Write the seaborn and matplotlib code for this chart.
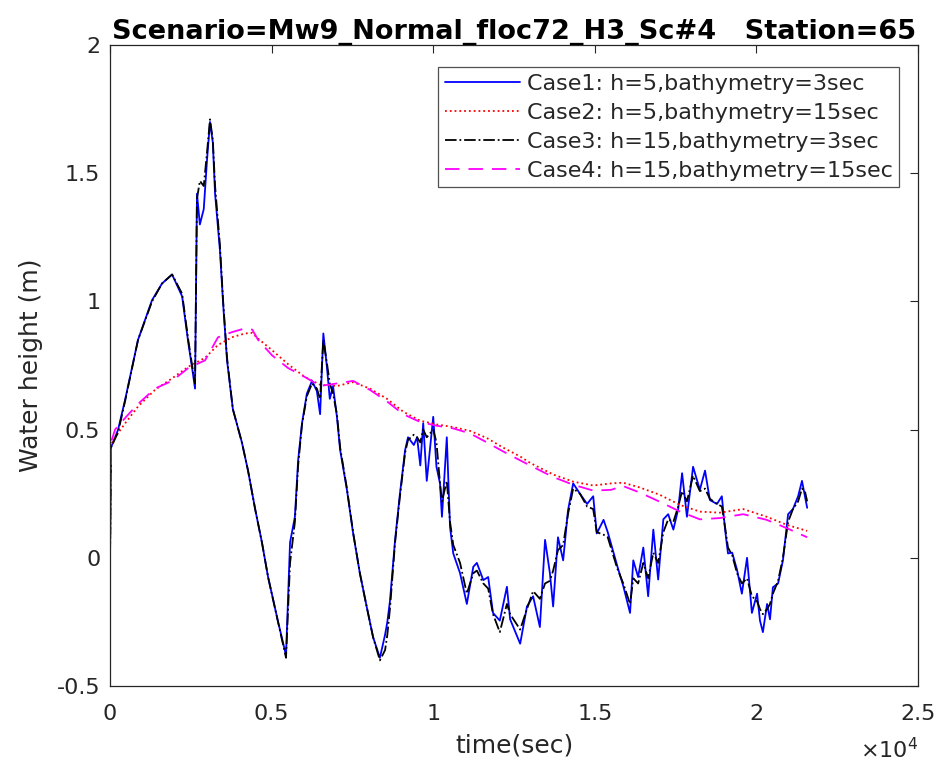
import numpy as np
import pandas as pd
import seaborn as sns
import matplotlib
matplotlib.use("Agg")
import matplotlib.pyplot as plt

# fast oscillating series (Case1 / Case3), time in seconds
t_fast = [0, 30, 250, 464, 866, 1300, 1610, 1920, 2230, 2420, 2540, 2630, 2690, 2780, 2900, 3000,
          3094, 3180, 3250, 3400, 3500, 3620, 3800, 4080, 4270, 4490, 4700, 4890, 5200, 5445, 5570,
          5720, 5820, 5940, 6090, 6250, 6400, 6500, 6600, 6710, 6800, 6900, 7020, 7120, 7330, 7520,
          7730, 7940, 8140, 8350, 8510, 8580, 8660, 8820, 8970, 9130, 9220, 9400, 9500, 9600, 9690,
          9800, 10000, 10100, 10210, 10270, 10420, 10520, 10620, 10830, 11040, 11240, 11350, 11550,
          11700, 11850, 12060, 12280, 12380, 12690, 12900, 13090, 13300, 13460, 13610, 13710, 13860,
          14020, 14170, 14330, 14540, 14760, 14950, 15060, 15270, 15400, 15690, 15880, 16090, 16190,
          16340, 16500, 16650, 16810, 16960, 17120, 17270, 17430, 17580, 17700, 17850, 18040, 18250,
          18410, 18560, 18780, 18930, 19030, 19120, 19250, 19400, 19550, 19710, 19860, 20020, 20110,
          20200, 20330, 20420, 20510, 20670, 20820, 20980, 21130, 21290, 21410, 21500, 21570]

case1 = [0.0, 0.43, 0.50, 0.615, 0.85, 1.005, 1.07, 1.105, 1.02, 0.84, 0.74, 0.66, 1.42, 1.30, 1.36, 1.55,
         1.70, 1.62, 1.42, 1.20, 0.99, 0.77, 0.58, 0.45, 0.34, 0.19, 0.06, -0.075, -0.25, -0.38, 0.06,
         0.16, 0.38, 0.525, 0.64, 0.69, 0.65, 0.56, 0.875, 0.745, 0.62, 0.67, 0.55, 0.42, 0.265, 0.097,
         -0.06, -0.19, -0.31, -0.39, -0.30, -0.25, -0.17, 0.07, 0.25, 0.42, 0.47, 0.44, 0.47, 0.36, 0.525,
         0.30, 0.55, 0.355, 0.29, 0.16, 0.47, 0.12, 0.017, -0.06, -0.18, -0.035, -0.02, -0.087,
         -0.075, -0.215, -0.245, -0.113, -0.24, -0.335, -0.19, -0.15, -0.27, 0.07, -0.06, -0.19, 0.08,
         -0.01, 0.185, 0.29, 0.25, 0.21, 0.24, 0.095, 0.148, 0.10, -0.03, -0.11, -0.215, -0.01,
         -0.075, 0.04, -0.15, 0.11, -0.085, 0.15, 0.17, 0.11, 0.19, 0.33, 0.16, 0.355, 0.265,
         0.34, 0.225, 0.21, 0.24, 0.11, 0.017, 0.02, -0.047, -0.14, 0.0, -0.215, -0.14, -0.245,
         -0.29, -0.18, -0.24, -0.115, -0.10, -0.01, 0.17, 0.19, 0.24, 0.30, 0.24, 0.195]

case3 = [0.0, 0.43, 0.49, 0.61, 0.85, 1.0, 1.07, 1.105, 1.03, 0.85, 0.75, 0.68, 1.40, 1.47, 1.45, 1.58,
         1.71, 1.63, 1.45, 1.22, 1.0, 0.78, 0.58, 0.45, 0.34, 0.19, 0.06, -0.075, -0.25, -0.39, -0.02,
         0.14, 0.36, 0.52, 0.63, 0.68, 0.66, 0.62, 0.85, 0.76, 0.68, 0.64, 0.56, 0.43, 0.27, 0.10,
         -0.06, -0.19, -0.31, -0.40, -0.36, -0.30, -0.20, 0.06, 0.24, 0.41, 0.46, 0.48, 0.47, 0.45, 0.50,
         0.47, 0.50, 0.45, 0.29, 0.22, 0.30, 0.14, 0.05, -0.02, -0.14, -0.06, -0.05, -0.10,
         -0.12, -0.22, -0.29, -0.18, -0.22, -0.28, -0.20, -0.13, -0.16, -0.10, -0.09, -0.05, 0.03,
         0.05, 0.17, 0.27, 0.25, 0.20, 0.19, 0.10, 0.09, 0.08, -0.04, -0.10, -0.18, -0.08,
         -0.10, -0.02, -0.08, 0.02, -0.02, 0.10, 0.15, 0.14, 0.20, 0.26, 0.22, 0.32, 0.26,
         0.27, 0.23, 0.21, 0.20, 0.12, 0.04, 0.01, -0.06, -0.10, -0.08, -0.15, -0.17, -0.20,
         -0.22, -0.20, -0.18, -0.14, -0.09, 0.0, 0.14, 0.19, 0.22, 0.27, 0.26, 0.22]

# slow series (Case2 / Case4)
t_slow = [0, 30, 155, 500, 866, 1390, 1920, 2420, 2940, 3340, 3770, 4180, 4400, 4580, 5010, 5510,
          6030, 6500, 7020, 7520, 8040, 8570, 9070, 9590, 10110, 10610, 11140, 11660, 12160, 12690,
          13000, 13710, 14330, 14950, 15500, 15870, 16400, 17020, 17640, 18250, 18870, 19590, 20320,
          20950, 21570]

case2 = [0.0, 0.44, 0.47, 0.53, 0.59, 0.655, 0.70, 0.745, 0.78, 0.83, 0.86, 0.875, 0.877, 0.855, 0.81,
         0.755, 0.705, 0.675, 0.67, 0.685, 0.66, 0.62, 0.57, 0.535, 0.52, 0.51, 0.495, 0.467, 0.43,
         0.395, 0.37, 0.325, 0.297, 0.282, 0.29, 0.293, 0.274, 0.245, 0.206, 0.18, 0.176, 0.19,
         0.16, 0.128, 0.105]

case4 = [0.0, 0.45, 0.50, 0.55, 0.60, 0.66, 0.69, 0.74, 0.77, 0.86, 0.88, 0.895, 0.89, 0.85, 0.79,
         0.74, 0.705, 0.67, 0.68, 0.69, 0.655, 0.61, 0.56, 0.53, 0.515, 0.505, 0.485, 0.45, 0.415,
         0.38, 0.36, 0.315, 0.285, 0.262, 0.265, 0.28, 0.254, 0.218, 0.18, 0.15, 0.155, 0.17,
         0.148, 0.115, 0.08]

labels = ["Case1: h=5,bathymetry=3sec", "Case2: h=5,bathymetry=15sec",
          "Case3: h=15,bathymetry=3sec", "Case4: h=15,bathymetry=15sec"]
xticks = [0, 5000, 10000, 15000, 20000, 25000]
xticklabels = ["0", "0.5", "1", "1.5", "2", "2.5"]
yticks = [-0.5, 0, 0.5, 1, 1.5, 2]
yticklabels = ["-0.5", "0", "0.5", "1", "1.5", "2"]

sns.set_style("white")
plt.rcParams['font.family'] = ['DejaVu Sans']

fig = plt.figure(figsize=(9.38, 7.64), dpi=100)
ax = fig.add_axes([0.1173, 0.1021, 0.8614, 0.839])

styles = [("#0000ff", "-"), ("#ff0000", ":"), ("#000000", "-."), ("#ff00ff", (0, (8, 5)))]
series = [(t_fast, case1), (t_slow, case2), (t_fast, case3), (t_slow, case4)]
for (tt, vv), (col, ls), lab in zip(series, styles, labels):
    df = pd.DataFrame({"time": tt, "h": vv})
    sns.lineplot(data=df, x="time", y="h", ax=ax, color=col, linestyle=ls, linewidth=1.3,
                 label=lab, sort=False, estimator=None)

ax.set_xlim(0, 25000)
ax.set_ylim(-0.5, 2)
ax.set_xticks(xticks)
ax.set_xticklabels(xticklabels)
ax.set_yticks(yticks)
ax.set_yticklabels(yticklabels)
ax.tick_params(direction="in", top=True, right=True, length=6, width=0.8,
               labelsize=16, colors="#262626")
ax.tick_params(axis="x", pad=13)
ax.tick_params(axis="y", pad=7)
for sp in ax.spines.values():
    sp.set_color("#262626")
    sp.set_linewidth(0.9)

ax.set_xlabel("time(sec)", fontsize=18, color="#262626", labelpad=7)
ax.set_ylabel("Water height (m)", fontsize=18, color="#262626", labelpad=10)
ax.set_title("Scenario=Mw9_Normal_floc72_H3_Sc#4   Station=65", fontsize=19.5,
             fontweight="bold", color="black", pad=4)
ax.text(1.0, -0.1, r"$\times10^4$", transform=ax.transAxes, ha="right", va="center",
        fontsize=16, color="#262626")

leg = ax.legend(loc="upper right", bbox_to_anchor=(0.977, 0.965), fontsize=16,
                frameon=True, fancybox=False, edgecolor="#262626", handlelength=3.4,
                borderpad=0.3, labelspacing=0.4, handletextpad=0.3, borderaxespad=0.0)
leg.get_frame().set_linewidth(0.9)
for txt in leg.get_texts():
    txt.set_color("#262626")

fig.savefig("out.png", dpi=100)
